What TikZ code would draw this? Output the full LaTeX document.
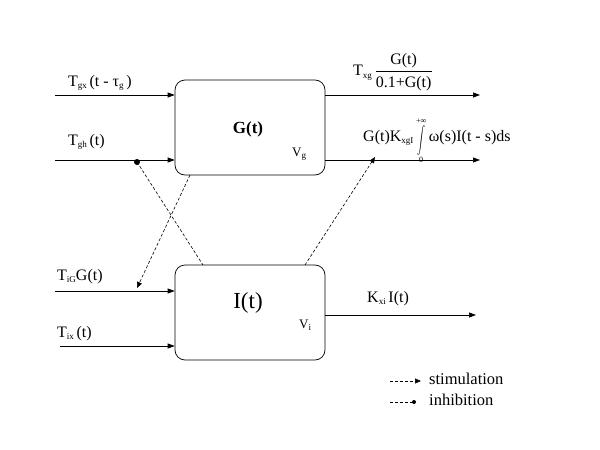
\documentclass[tikz,border=0pt]{standalone}
\usepackage{fontspec}
\usepackage{graphicx}
\setmainfont{Liberation Serif}
\usetikzlibrary{arrows.meta}
\newcommand{\sbs}[1]{\raisebox{-0.35ex}{\fontsize{9}{9}\selectfont #1}}
\newcommand{\limtxt}[1]{\mbox{\fontsize{8}{8}\selectfont #1}}
\tikzset{
  blk/.style={draw, line width=0.7pt, rounded corners=10pt, minimum width=150pt, minimum height=95pt, inner sep=0pt},
  flow/.style={line width=0.7pt, -{Triangle[length=7pt,width=5pt]}},
  stim/.style={line width=0.6pt, dash pattern=on 3pt off 2pt, -{Triangle[length=6pt,width=5pt]}},
  inhib/.style={line width=0.6pt, dash pattern=on 3pt off 2pt},
  lbl/.style={font=\fontsize{16}{16}\selectfont, inner sep=0pt},
}
\begin{document}
\begin{tikzpicture}[x=1pt,y=-1pt]
\useasboundingbox (0,0) rectangle (600,450);
% boxes
\node[blk] (G) at (250,127.5) {};
\node[blk] (I) at (250,312.5) {};
\node[inner sep=0pt, font=\fontsize{17}{17}\selectfont\bfseries, anchor=base] (Glab) at (248,133) {G(t)};
\node[inner sep=0pt, font=\fontsize{23}{23}\selectfont, anchor=base] (Ilab) at (248,308) {I(t)};
\node[inner sep=0pt, font=\fontsize{13}{13}\selectfont, anchor=base west] (Vg) at (292,156) {V\sbs{g}};
\node[inner sep=0pt, font=\fontsize{13}{13}\selectfont, anchor=base west] (Vi) at (299,328) {V\sbs{i}};
% input coordinates
\coordinate (gx0) at (55,95);
\coordinate (gh0) at (55,160);
\coordinate (ig0) at (55,291);
\coordinate (ix0) at (60,346);
\coordinate (gxe) at (G.west |- gx0);
\coordinate (ghe) at (G.west |- gh0);
\coordinate (ige) at (I.west |- ig0);
\coordinate (ixe) at (I.west |- ix0);
\draw[flow] (gx0) -- (gxe);
\draw[flow] (gh0) -- (ghe);
\draw[flow] (ig0) -- (ige);
\draw[flow] (ix0) -- (ixe);
% outputs
\coordinate (o1s) at (G.east |- 0,95);
\coordinate (o1e) at (480,95);
\coordinate (o2s) at (G.east |- 0,160);
\coordinate (o2e) at (480,160);
\coordinate (o3s) at (I.east |- 0,315);
\coordinate (o3e) at (476,315);
\draw[flow] (o1s) -- (o1e);
\draw[flow] (o2s) -- (o2e);
\draw[flow] (o3s) -- (o3e);
% labels
\node[lbl, anchor=base west] (Lgx) at (68,86) {T\sbs{gx}\,(t - τ\sbs{g}\,)};
\node[lbl, anchor=base west] (Lgh) at (68,145) {T\sbs{gh}\,(t)};
\node[lbl, anchor=base west] (Lig) at (57,280) {T\sbs{iG}G(t)};
\node[lbl, anchor=base west] (Lix) at (57,337) {T\sbs{ix}\,(t)};
\node[lbl, anchor=base west] (Lxi) at (367,302) {K\sbs{xi}\,I(t)};
\node[lbl, anchor=west] (Lxg) at (353,72) {T\sbs{xg}\,$\displaystyle\frac{\mbox{G(t)}}{\mbox{0.1+G(t)}}$};
\node[lbl, anchor=base west] (Lint) at (363,141) {G(t)K\sbs{xgI}\,$\displaystyle\mathop{\raisebox{-0.25\height}{\scalebox{0.8}[1.35]{$\displaystyle\int$}}}\limits_{\limtxt{0}}^{\limtxt{+∞}}$\,ω(s)I(t - s)ds};
% dashed interactions
\coordinate (dot) at (137,162);
\coordinate (Itop1) at (203,265);
\coordinate (Gbot1) at (190,175);
\coordinate (tigtip) at (137,288);
\coordinate (Itop2) at (305,265);
\coordinate (inttip) at (375,157);
\fill (dot) circle (3pt);
\draw[inhib] (dot) -- (Itop1);
\draw[stim] (Gbot1) -- (tigtip);
\draw[stim] (Itop2) -- (inttip);
% legend
\coordinate (ls0) at (390,381);
\coordinate (ls1) at (421,381);
\coordinate (li0) at (390,402);
\coordinate (li1) at (414,402);
\draw[stim] (ls0) -- (ls1);
\draw[inhib] (li0) -- (li1);
\fill (li1) circle (2pt);
\node[lbl, anchor=base west, font=\fontsize{16.5}{16.5}\selectfont] (Lst) at (429,384) {stimulation};
\node[lbl, anchor=base west, font=\fontsize{16.5}{16.5}\selectfont] (Lin) at (429,405) {inhibition};
\end{tikzpicture}
\end{document}
